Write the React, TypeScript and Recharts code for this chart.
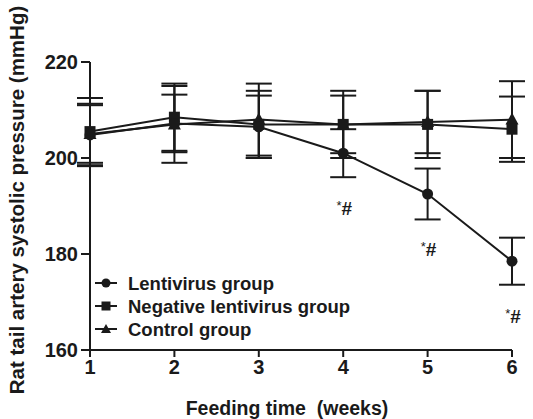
import React from 'react'
import {
  LineChart,
  Line,
  XAxis,
  YAxis,
  ErrorBar,
  Legend,
  LabelList
} from 'recharts'

const weeks = [1, 2, 3, 4, 5, 6]
const lentivirus = [204.8, 207.2, 206.5, 201.0, 192.5, 178.5]
const lentivirusSd = [6.5, 6, 6.5, 5, 5.3, 4.9]
const negative = [205.5, 208.5, 207, 207, 207, 206]
const negativeSd = [7, 7, 7, 7, 7, 6.8]
const control = [205, 207, 208, 207, 207.5, 208]
const controlSd = [6, 8, 7.5, 6, 6.5, 8]
const significance = ['', '', '', '*#', '*#', '*#']
const yTicks = [160, 180, 200, 220]

const data = weeks.map((w, i) => ({
  week: w,
  lenti: lentivirus[i],
  lentiErr: lentivirusSd[i],
  neg: negative[i],
  negErr: negativeSd[i],
  ctrl: control[i],
  ctrlErr: controlSd[i],
  sig: significance[i]
}))

const FONT = '"Liberation Sans", Arial, sans-serif'
const INK = '#1a1a1a'

const CircleDot = (p: any) => (
  <circle key={`c${p.index}`} cx={p.cx} cy={p.cy} r={5.5} fill={INK} />
)
const SquareDot = (p: any) => (
  <rect key={`s${p.index}`} x={p.cx - 5.5} y={p.cy - 5.5} width={11} height={11} fill={INK} />
)
const TriangleDot = (p: any) => (
  <path
    key={`t${p.index}`}
    d={`M${p.cx},${p.cy - 7} L${p.cx + 6.5},${p.cy + 5} L${p.cx - 6.5},${p.cy + 5} Z`}
    fill={INK}
  />
)

const legendItems = [
  { name: 'Lentivirus group', shape: 'circle' },
  { name: 'Negative lentivirus group', shape: 'square' },
  { name: 'Control group', shape: 'triangle' }
]

const renderLegend = () => (
  <svg width={300} height={75}>
    {legendItems.map((it, i) => {
      const y = 11 + i * 23
      return (
        <g key={it.name}>
          <line x1={2} x2={24} y1={y} y2={y} stroke={INK} strokeWidth={2} />
          {it.shape === 'circle' && <circle cx={13} cy={y} r={4.5} fill={INK} />}
          {it.shape === 'square' && <rect x={8.5} y={y - 4.5} width={9} height={9} fill={INK} />}
          {it.shape === 'triangle' && (
            <path d={`M13,${y - 5} L18,${y + 4} L8,${y + 4} Z`} fill={INK} />
          )}
          <text x={35} y={y + 6.5} fontFamily={FONT} fontWeight="bold" fontSize={18.5} fill={INK}>
            {it.name}
          </text>
        </g>
      )
    })}
  </svg>
)

// "*#" marks: small raised asterisk, full-size hash
const renderSig = (p: any) => {
  if (!p.value) return null
  const star = p.value.slice(0, 1)
  const rest = p.value.slice(1)
  return (
    <text
      x={p.x + 1}
      y={p.y + 62}
      textAnchor="middle"
      fontFamily={FONT}
      fontWeight="bold"
      fontSize={19}
      fill={INK}
    >
      <tspan fontSize={13} fontWeight="normal" dy={-5}>{star}</tspan>
      <tspan dy={5}>{rest}</tspan>
    </text>
  )
}

export default function App() {
  return (
    <div style={{ position: 'absolute', left: 0, top: 0, width: 533, height: 419, background: '#fff' }}>
      <LineChart
        width={533}
        height={419}
        data={data}
        margin={{ top: 62, right: 21, bottom: 0, left: 0 }}
      >
        <XAxis
          dataKey="week"
          type="number"
          domain={[1, 6]}
          ticks={weeks}
          height={69}
          tickSize={7}
          stroke={INK}
          strokeWidth={2}
          tick={{ fill: INK, fontFamily: FONT, fontWeight: 'bold', fontSize: 20 }}
          tickMargin={3}
          label={{
            value: 'Feeding time\u00a0 (weeks)',
            position: 'insideBottom',
            offset: 4,
            dx: -14,
            fill: INK,
            fontFamily: FONT,
            fontWeight: 'bold',
            fontSize: 19.5
          }}
        />
        <YAxis
          type="number"
          domain={[160, 220]}
          ticks={yTicks}
          width={90}
          tickSize={9}
          stroke={INK}
          strokeWidth={2}
          tick={{ fill: INK, fontFamily: FONT, fontWeight: 'bold', fontSize: 20 }}
          tickMargin={3}
          label={{
            value: 'Rat tail artery systolic pressure (mmHg)',
            angle: -90,
            position: 'insideLeft',
            offset: 17,
            dy: -6,
            fill: INK,
            fontFamily: FONT,
            fontWeight: 'bold',
            fontSize: 20.5,
            style: { textAnchor: 'middle' }
          }}
        />
        <Legend
          layout="vertical"
          verticalAlign="middle"
          align="center"
          content={renderLegend}
          wrapperStyle={{ left: 93, top: 272, width: 300 }}
        />
        <Line
          dataKey="ctrl"
          stroke={INK}
          strokeWidth={2}
          dot={TriangleDot}
          activeDot={false}
          isAnimationActive={false}
        >
          <ErrorBar dataKey="ctrlErr" width={13} stroke={INK} strokeWidth={2} />
        </Line>
        <Line
          dataKey="neg"
          stroke={INK}
          strokeWidth={2}
          dot={SquareDot}
          activeDot={false}
          isAnimationActive={false}
        >
          <ErrorBar dataKey="negErr" width={13} stroke={INK} strokeWidth={2} />
        </Line>
        <Line
          dataKey="lenti"
          stroke={INK}
          strokeWidth={2}
          dot={CircleDot}
          activeDot={false}
          isAnimationActive={false}
        >
          <ErrorBar dataKey="lentiErr" width={13} stroke={INK} strokeWidth={2} />
          <LabelList dataKey="sig" content={renderSig} />
        </Line>
      </LineChart>
    </div>
  )
}
